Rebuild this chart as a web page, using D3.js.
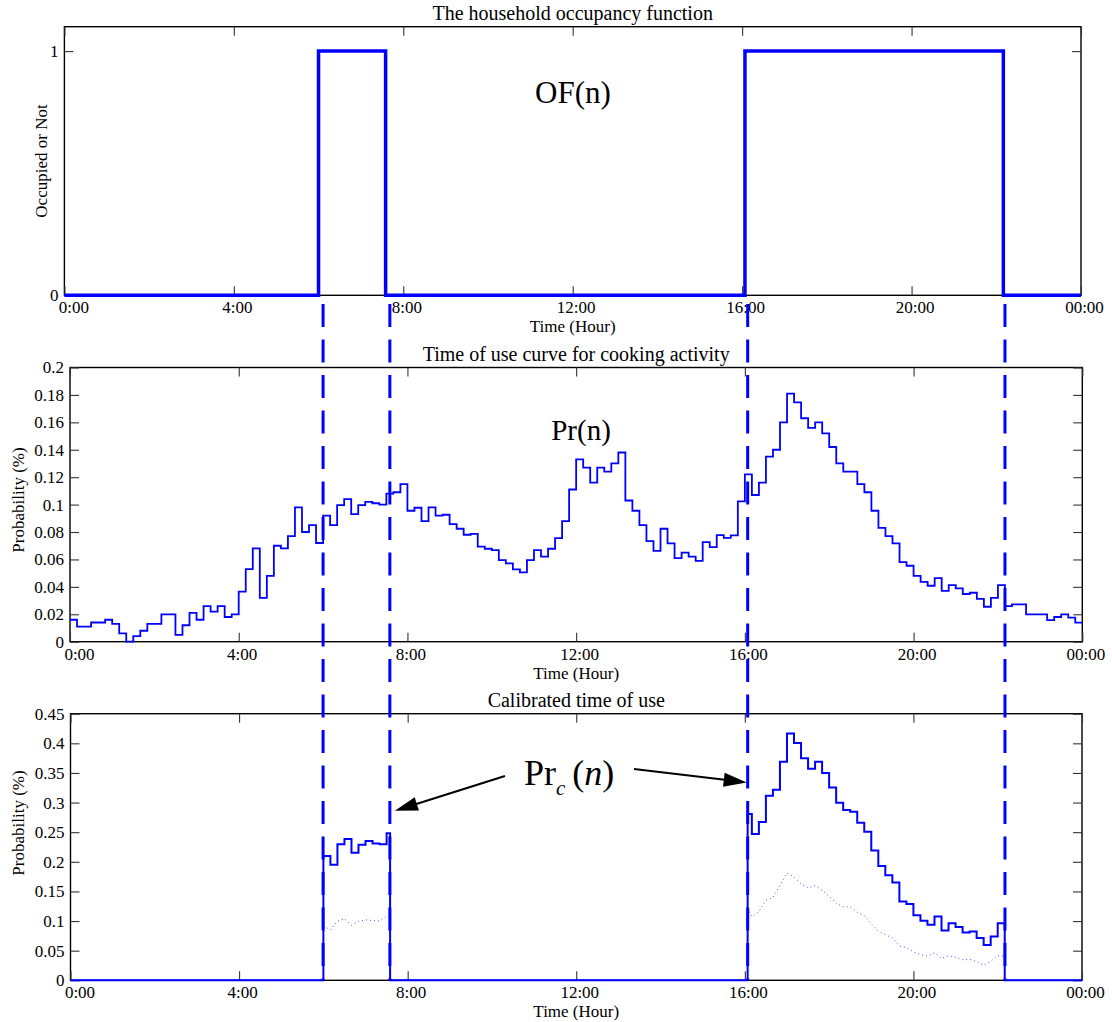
<!DOCTYPE html>
<html><head><meta charset="utf-8">
<script src="https://cdn.jsdelivr.net/npm/d3@7"></script>
<style>
body{margin:0;background:#fff}
svg{display:block}
text{font-family:"Liberation Serif","Times New Roman",serif;fill:#000}
</style>
</head><body>
<svg id="chart" width="1112" height="1022"></svg>
<script>
// ---------------- data ----------------
const timeTickLabels = ["0:00","4:00","8:00","12:00","16:00","20:00","00:00"];
const stepMinutes = 10;
// Time of use curve for cooking activity, 10-minute steps from 0:00
const probability = [
  0.016,0.011,0.011,0.014,0.014,0.016,0.013,0.006,0.000,0.004,0.008,0.013,
  0.013,0.020,0.020,0.005,0.012,0.021,0.016,0.026,0.022,0.026,0.018,0.020,
  0.0365,0.053,0.068,0.032,0.048,0.070,0.068,0.077,0.098,0.080,0.085,0.072,
  0.092,0.085,0.0996,0.104,0.093,0.0996,0.102,0.101,0.100,0.108,0.109,0.115,
  0.0955,0.0977,0.088,0.098,0.092,0.0926,0.0858,0.0824,0.078,0.0787,0.0693,0.0678,
  0.0668,0.0595,0.0571,0.0527,0.0505,0.0595,0.0668,0.062,0.0678,0.0756,0.088,0.111,
  0.133,0.127,0.116,0.127,0.124,0.130,0.138,0.103,0.0955,0.085,0.0734,0.0663,
  0.0824,0.0717,0.061,0.0649,0.062,0.059,0.0727,0.069,0.0778,0.0758,0.0775,0.1023,
  0.122,0.107,0.116,0.135,0.140,0.160,0.181,0.1745,0.163,0.156,0.160,0.152,
  0.142,0.130,0.124,0.124,0.115,0.109,0.0955,0.083,0.077,0.0717,0.058,0.0554,
  0.048,0.0437,0.0408,0.0464,0.037,0.0413,0.0389,0.0348,0.0357,0.0313,0.0255,0.032,
  0.0413,0.026,0.0272,0.0272,0.020,0.020,0.020,0.0158,0.018,0.020,0.0175,0.0139
];
// Calibrated time of use (10-minute steps, shown only while occupied)
const calibratedMorningStart = "6:00";
const calibratedMorning = [0.21,0.195,0.2295,0.2385,0.2155,0.229,0.235,0.231,0.2295,0.248];
const calibratedEveningStart = "16:00";
const calibratedEvening = [
  0.2806,0.247,0.267,0.3114,0.3215,0.3687,0.4164,0.4007,0.3749,0.3569,0.3687,0.350,
  0.3255,0.2997,0.2873,0.2845,0.266,0.2508,0.2189,0.193,0.1773,0.165,0.133,0.129,
  0.110,0.1004,0.0937,0.1077,0.0842,0.0965,0.0898,0.0808,0.0825,0.0713,0.0595,0.0741,0.0965
];
// Household occupancy function: state changes
const occupancyChangeTimes = ["0:00","6:00","7:35","16:04","22:10"];
const occupancyStates = [0,1,0,1,0];

const occTickLabels = ["0","1"];
const probTickLabels = ["0","0.02","0.04","0.06","0.08","0.1","0.12","0.14","0.16","0.18","0.2"];
const calibTickLabels = ["0","0.05","0.1","0.15","0.2","0.25","0.3","0.35","0.4","0.45"];

// ---------------- helpers ----------------
const toMin = s => { const [h,m] = s.split(":").map(Number); return h*60+m; };
const dayMin = 1440;
const timeTicks = timeTickLabels.map((d,i)=>i*240);
const changeMin = occupancyChangeTimes.map(toMin);
const occupiedAt = t => { let s = 0; changeMin.forEach((c,i)=>{ if (c<=t) s = occupancyStates[i]; }); return s; };
const BLUE = "#0000ff";

const svg = d3.select("#chart");

function panel(cfg){
  const x = d3.scaleLinear().domain([0,dayMin]).range([cfg.left,cfg.right]);
  const y = d3.scaleLinear().domain([0,cfg.yMax]).range([cfg.bottom,cfg.top]);
  const g = svg.append("g");
  const yVals = cfg.yLabels.map(Number);

  g.append("rect").attr("x",cfg.left).attr("y",cfg.top)
    .attr("width",cfg.right-cfg.left).attr("height",cfg.bottom-cfg.top)
    .attr("fill","none").attr("stroke","#000").attr("stroke-width",1.4);

  const bx = g.append("g").attr("transform",`translate(0,${cfg.bottom})`)
    .call(d3.axisBottom(x).tickValues(timeTicks).tickFormat((d,i)=>timeTickLabels[i])
      .tickSizeInner(-9).tickSizeOuter(0).tickPadding(6));
  const tx = g.append("g").attr("transform",`translate(0,${cfg.top})`)
    .call(d3.axisTop(x).tickValues(timeTicks).tickFormat("").tickSizeInner(-9).tickSizeOuter(0));
  const ly = g.append("g").attr("transform",`translate(${cfg.left},0)`)
    .call(d3.axisLeft(y).tickValues(yVals).tickFormat((d,i)=>cfg.yLabels[i])
      .tickSizeInner(-9).tickSizeOuter(0).tickPadding(6));
  const ry = g.append("g").attr("transform",`translate(${cfg.right},0)`)
    .call(d3.axisRight(y).tickValues(yVals).tickFormat("").tickSizeInner(-9).tickSizeOuter(0));
  [bx,tx,ly,ry].forEach(a=>{
    a.select(".domain").remove();
    a.attr("font-size",17).attr("font-family",null);
    a.selectAll(".tick line").attr("stroke","#333").attr("stroke-width",1.1);
  });
  bx.selectAll("text").attr("dx",(d,i)=> i===0 ? 9 : 3);

  g.append("text").attr("x",(cfg.left+cfg.right)/2).attr("y",cfg.top-7)
    .attr("text-anchor","middle").attr("font-size",20).text(cfg.title);
  g.append("text").attr("x",(cfg.left+cfg.right)/2).attr("y",cfg.bottom+37)
    .attr("text-anchor","middle").attr("font-size",17).text("Time (Hour)");
  g.append("text").attr("transform",`translate(${cfg.ylabX},${cfg.ylabY}) rotate(-90)`)
    .attr("text-anchor","middle").attr("font-size",17).text(cfg.ylabel);
  return {x,y,g};
}

// ---------------- panel 1 ----------------
const p1 = panel({left:64.4,right:1081,top:26.7,bottom:295.3,yMax:1.1,yLabels:occTickLabels,
  title:"The household occupancy function",ylabel:"Occupied or Not",ylabX:47,ylabY:161});
const ofPts = changeMin.map((t,i)=>[t,occupancyStates[i]]);
ofPts.push([dayMin, occupancyStates[occupancyStates.length-1]]);
p1.g.append("path").datum(ofPts)
  .attr("d",d3.line().x(d=>p1.x(d[0])).y(d=>p1.y(d[1])).curve(d3.curveStepAfter))
  .attr("fill","none").attr("stroke",BLUE).attr("stroke-width",3.5);
p1.g.append("text").attr("x",573).attr("y",103).attr("text-anchor","middle")
  .attr("font-size",31).text("OF(n)");

// ---------------- panel 2 ----------------
const p2 = panel({left:70,right:1082.3,top:367.5,bottom:641.7,yMax:0.2,yLabels:probTickLabels,
  title:"Time of use curve for cooking activity",ylabel:"Probability (%)",ylabX:24,ylabY:500});
const prPts = probability.map((v,i)=>[i*stepMinutes,v]);
prPts.push([dayMin, probability[probability.length-1]]);
p2.g.append("path").datum(prPts)
  .attr("d",d3.line().x(d=>p2.x(d[0])).y(d=>p2.y(d[1])).curve(d3.curveStepAfter))
  .attr("fill","none").attr("stroke",BLUE).attr("stroke-width",1.8);
p2.g.append("text").attr("x",581).attr("y",440).attr("text-anchor","middle")
  .attr("font-size",29).text("Pr(n)");

// ---------------- panel 3 ----------------
const p3 = panel({left:70.5,right:1082,top:713.7,bottom:980.3,yMax:0.45,yLabels:calibTickLabels,
  title:"Calibrated time of use",ylabel:"Probability (%)",ylabX:24,ylabY:823});
const calibrated = probability.map(()=>0);
[[calibratedMorningStart,calibratedMorning],[calibratedEveningStart,calibratedEvening]].forEach(([s,arr])=>{
  const i0 = toMin(s)/stepMinutes; arr.forEach((v,k)=>calibrated[i0+k]=v);
});
const bp = Array.from(new Set(d3.range(0,dayMin,stepMinutes).concat(changeMin))).sort((a,b)=>a-b);

// dotted: original probability during occupied spans
for (let i=0;i<changeMin.length;i++){
  if (!occupancyStates[i]) continue;
  const s = changeMin[i], e = i+1<changeMin.length ? changeMin[i+1] : dayMin;
  const pts = bp.filter(t=>t>=s && t<e).map(t=>[t, probability[Math.floor(t/stepMinutes)]]);
  pts.push([e, probability[Math.floor((e-1)/stepMinutes)]]);
  p3.g.append("path").datum(pts)
    .attr("d",d3.line().x(d=>p3.x(d[0])).y(d=>p3.y(d[1])))
    .attr("fill","none").attr("stroke","#4d4dff").attr("stroke-width",1)
    .attr("stroke-dasharray","1,3");
}
const calPts = bp.map(t=>[t, occupiedAt(t) ? calibrated[Math.floor(t/stepMinutes)] : 0]);
calPts.push([dayMin, calPts[calPts.length-1][1]]);
p3.g.append("path").datum(calPts)
  .attr("d",d3.line().x(d=>p3.x(d[0])).y(d=>p3.y(d[1])).curve(d3.curveStepAfter))
  .attr("fill","none").attr("stroke",BLUE).attr("stroke-width",2);

// ---------------- annotation ----------------
const lbl = svg.append("text").attr("x",524).attr("y",785).attr("font-size",36);
lbl.append("tspan").text("Pr");
lbl.append("tspan").attr("font-size",21).attr("font-style","italic").attr("dy",10).text("c");
lbl.append("tspan").attr("dy",-10).attr("dx",7).text("(");
lbl.append("tspan").attr("font-style","italic").text("n");
lbl.append("tspan").text(")");

function arrow(x1,y1,x2,y2){
  const a = Math.atan2(y2-y1,x2-x1), L = 23, w = 7;
  const bx = x2-L*Math.cos(a), by = y2-L*Math.sin(a);
  svg.append("line").attr("x1",x1).attr("y1",y1).attr("x2",bx+3*Math.cos(a)).attr("y2",by+3*Math.sin(a))
    .attr("stroke","#000").attr("stroke-width",2);
  svg.append("path").attr("d",`M${x2},${y2}L${bx+w*Math.sin(a)},${by-w*Math.cos(a)}L${bx-w*Math.sin(a)},${by+w*Math.cos(a)}Z`)
    .attr("fill","#000");
}
const dashX = changeMin.slice(1).map(t=>p2.x(t));
arrow(505,776, dashX[1]+5, p3.y(0.286));
arrow(634,769, dashX[2]-1, p3.y(0.334));

// dashed guide lines through occupancy changes
dashX.forEach(xv=>{
  svg.append("line").attr("x1",xv).attr("x2",xv).attr("y1",304).attr("y2",980)
    .attr("stroke",BLUE).attr("stroke-width",3).attr("stroke-dasharray","23,12.5");
});
</script>
</body></html>
